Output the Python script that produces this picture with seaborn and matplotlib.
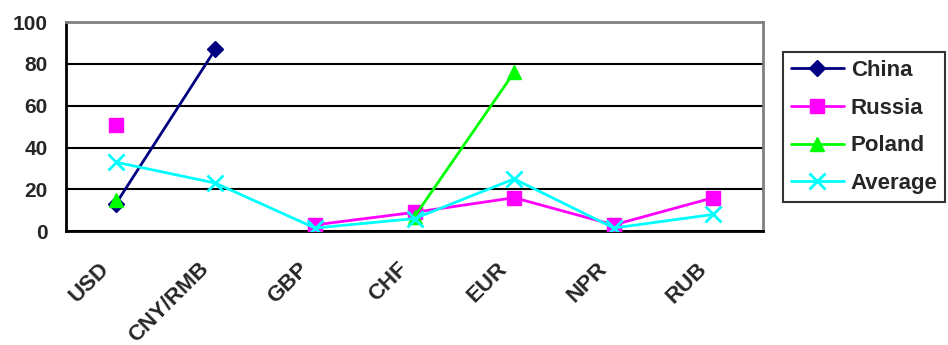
import numpy as np
import pandas as pd
import matplotlib.pyplot as plt
import matplotlib.transforms as mtransforms
from matplotlib.lines import Line2D
import seaborn as sns

currencies = ["USD", "CNY/RMB", "GBP", "CHF", "EUR", "NPR", "RUB"]
china = [13, 87, np.nan, np.nan, np.nan, np.nan, np.nan]
russia = [51, np.nan, 3, 9, 16, 3, 16]
poland = [15, np.nan, np.nan, 7, 76, np.nan, np.nan]
average = [33, 23, 1.5, 6, 25, 1.5, 8]

series = {"China": china, "Russia": russia, "Poland": poland, "Average": average}
colors = {"China": "#000080", "Russia": "#FF00FF", "Poland": "#00FF00", "Average": "#00FFFF"}
markers = {"China": "D", "Russia": "s", "Poland": "^", "Average": "x"}
msizes = {"China": 8, "Russia": 10, "Poland": 10, "Average": 11}

# long table, with a segment id so gaps (NaN) break the lines
rows = []
for name, vals in series.items():
    seg = 0
    for i, v in enumerate(vals):
        if np.isnan(v):
            seg += 1
            continue
        rows.append({"pos": i, "value": v, "series": name, "seg": seg})
df = pd.DataFrame(rows)

sns.set_style("white")
plt.rcParams["font.family"] = ["Liberation Sans", "DejaVu Sans"]

fig, ax = plt.subplots(figsize=(9.48, 3.45), dpi=100)
fig.subplots_adjust(left=0.0696, right=0.805, bottom=0.330, top=0.936)

for name in series:
    sub = df[df["series"] == name]
    sns.lineplot(data=sub, x="pos", y="value", units="seg", estimator=None,
                 color=colors[name], marker=markers[name], markersize=msizes[name],
                 markeredgecolor=colors[name], markeredgewidth=2 if name == "Average" else 1,
                 linewidth=2, ax=ax, legend=False, zorder=3)

ax.set_xlim(-0.5, len(currencies) - 0.5)
ax.set_ylim(0, 100)
ax.set_yticks(range(0, 101, 20))
ax.yaxis.grid(True, color="black", linewidth=1.5)
ax.set_axisbelow(True)
ax.set_xlabel("")
ax.set_ylabel("")

ax.set_xticks(range(len(currencies)))
ax.set_xticklabels(currencies, rotation=45, ha="right", va="center",
                   rotation_mode="anchor", fontsize=16, fontweight="bold")
ax.set_xticks(np.arange(-0.5, len(currencies)), minor=True)
ax.tick_params(axis="x", which="major", length=0, pad=25)
ax.tick_params(axis="x", which="minor", length=6, width=1.5, direction="out", color="black")
ax.tick_params(axis="y", length=6, width=1.5, direction="out", color="black",
               labelsize=15, pad=7)
for lab in ax.get_yticklabels():
    lab.set_fontweight("bold")

# shift category labels a little to the left, like the original
shift = mtransforms.ScaledTranslation(-10 / 100, 0, fig.dpi_scale_trans)
for lab in ax.get_xticklabels():
    lab.set_transform(lab.get_transform() + shift)

for side in ["left", "bottom"]:
    ax.spines[side].set_color("black")
    ax.spines[side].set_linewidth(2)
for side in ["top", "right"]:
    ax.spines[side].set_visible(True)
    ax.spines[side].set_color("#808080")
    ax.spines[side].set_linewidth(2)

handles = [Line2D([], [], color=colors[n], marker=markers[n], markersize=msizes[n],
                  markeredgecolor=colors[n], markeredgewidth=2 if n == "Average" else 1,
                  linewidth=2) for n in series]
leg = fig.legend(handles, list(series.keys()), loc="center left",
                 bbox_to_anchor=(0.826, 0.632), frameon=True, fancybox=False,
                 prop={"weight": "bold", "size": 16}, handlelength=2.4,
                 handletextpad=0.3, labelspacing=0.75, borderpad=0.35, borderaxespad=0)
leg.get_frame().set_edgecolor("black")
leg.get_frame().set_linewidth(1.5)

plt.savefig("out.png", dpi=100)
